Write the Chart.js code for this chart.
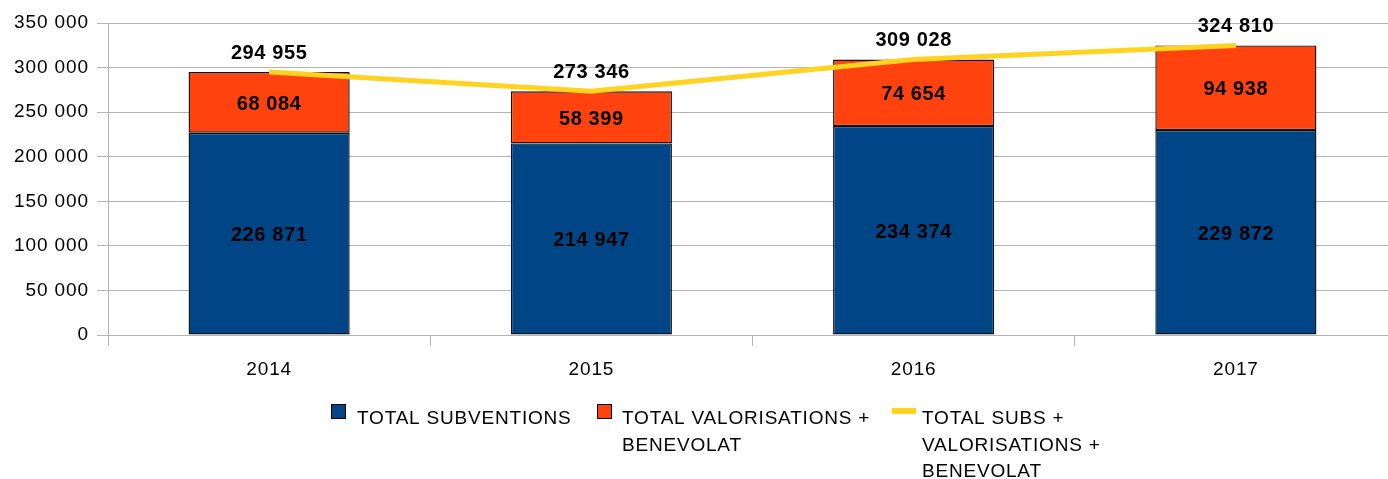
<!DOCTYPE html>
<html>
<head>
<meta charset="utf-8">
<script src="https://cdn.jsdelivr.net/npm/chart.js@4.4.1/dist/chart.umd.min.js"></script>
<style>
  html, body { margin: 0; padding: 0; background: #fff; overflow: hidden; }
  #wrap { width: 1400px; height: 479px; }
</style>
</head>
<body>
<div id="wrap"><canvas id="c" width="1400" height="479"></canvas></div>
<script>
const categories = ['2014', '2015', '2016', '2017'];
const subventions = [226871, 214947, 234374, 229872];
const valorisations = [68084, 58399, 74654, 94938];
const totals = [294955, 273346, 309028, 324810];
const seriesNames = [
  'TOTAL SUBVENTIONS',
  'TOTAL VALORISATIONS + BENEVOLAT',
  'TOTAL SUBS + VALORISATIONS + BENEVOLAT'
];
const yTicks = [0, 50000, 100000, 150000, 200000, 250000, 300000, 350000];

const FONT = '"Liberation Sans", Arial, sans-serif';
const fmt = v => String(v).replace(/\B(?=(\d{3})+(?!\d))/g, ' ');

const spacingPlugin = {
  id: 'spacing',
  beforeDraw(chart) { chart.ctx.letterSpacing = '0.9px'; }
};

const labelPlugin = {
  id: 'valueLabels',
  afterDatasetsDraw(chart) {
    const ctx = chart.ctx;
    ctx.save();
    ctx.letterSpacing = '0.6px';
    ctx.font = 'bold 20px ' + FONT;
    ctx.fillStyle = '#000';
    ctx.textAlign = 'center';
    ctx.textBaseline = 'middle';
    chart.data.datasets.forEach((ds, di) => {
      const meta = chart.getDatasetMeta(di);
      meta.data.forEach((el, i) => {
        const v = ds.data[i];
        if (ds.type === 'line') {
          ctx.fillText(fmt(v), el.x, el.y - 19);
        } else {
          ctx.fillText(fmt(v), el.x, (el.y + el.base) / 2 + 2);
        }
      });
    });
    ctx.restore();
  }
};

const legendPlugin = {
  id: 'customLegend',
  afterDraw(chart) {
    const ctx = chart.ctx;
    ctx.save();
    ctx.letterSpacing = '0.8px';
    ctx.font = '19px ' + FONT;
    ctx.fillStyle = '#000';
    ctx.textAlign = 'left';
    ctx.textBaseline = 'alphabetic';
    const items = [
      { kind: 'box', color: '#004586', mx: 331, tx: 357, maxW: 1000 },
      { kind: 'box', color: '#ff420e', mx: 597, tx: 622, maxW: 260 },
      { kind: 'line', color: '#ffd320', mx: 892, tx: 922, maxW: 200 }
    ];
    const wrap = (text, maxW) => {
      const words = text.split(' ');
      const lines = [];
      let cur = '';
      words.forEach(w => {
        const t = cur ? cur + ' ' + w : w;
        if (cur && ctx.measureText(t).width > maxW) { lines.push(cur); cur = w; }
        else cur = t;
      });
      if (cur) lines.push(cur);
      return lines;
    };
    items.forEach((it, k) => {
      if (it.kind === 'box') {
        ctx.fillStyle = it.color;
        ctx.fillRect(it.mx, 404, 15, 15);
        ctx.strokeStyle = '#000';
        ctx.lineWidth = 1;
        ctx.strokeRect(it.mx + 0.5, 404.5, 14, 14);
      } else {
        ctx.fillStyle = it.color;
        ctx.fillRect(it.mx, 408, 24, 6);
      }
      ctx.fillStyle = '#000';
      const lines = wrap(seriesNames[k], it.maxW);
      lines.forEach((ln, j) => ctx.fillText(ln, it.tx, 424 + j * 26.7));
    });
    ctx.restore();
  }
};

const barCommon = {
  borderColor: '#111', borderWidth: 1.4, borderSkipped: false, inflateAmount: 0,
  barPercentage: 0.5, categoryPercentage: 1, stack: 's'
};

new Chart(document.getElementById('c'), {
  data: {
    labels: categories,
    datasets: [
      {
        type: 'line', label: seriesNames[2], data: totals,
        borderColor: '#ffd320', backgroundColor: '#ffd320', borderWidth: 5,
        pointRadius: 0, tension: 0, order: 0, stack: 'line'
      },
      Object.assign({ type: 'bar', label: seriesNames[0], data: subventions, backgroundColor: '#004586', order: 1 }, barCommon),
      Object.assign({ type: 'bar', label: seriesNames[1], data: valorisations, backgroundColor: '#ff420e', order: 2 }, barCommon)
    ]
  },
  options: {
    responsive: false,
    animation: false,
    layout: { padding: { top: 23, right: 3, left: 0, bottom: 0 } },
    plugins: { legend: { display: false }, tooltip: { enabled: false } },
    scales: {
      x: {
        stacked: true,
        offset: true,
        grid: { offset: true, drawOnChartArea: false, drawTicks: true, tickLength: 11, color: '#b3b3b3', lineWidth: 1 },
        border: { display: false },
        ticks: { color: '#000', font: { family: FONT, size: 19 }, padding: 12 },
        afterFit(s) { s.height = 144; }
      },
      y: {
        stacked: true,
        min: 0, max: 350000,
        afterBuildTicks(s) { s.ticks = yTicks.map(v => ({ value: v })); },
        grid: { color: '#b3b3b3', lineWidth: 1, tickLength: 11 },
        border: { display: true, color: '#b3b3b3' },
        ticks: { color: '#000', font: { family: FONT, size: 19 }, padding: 8, callback: v => fmt(v) },
        afterFit(s) { s.width = 108; }
      }
    }
  },
  plugins: [spacingPlugin, labelPlugin, legendPlugin]
});
</script>
</body>
</html>
